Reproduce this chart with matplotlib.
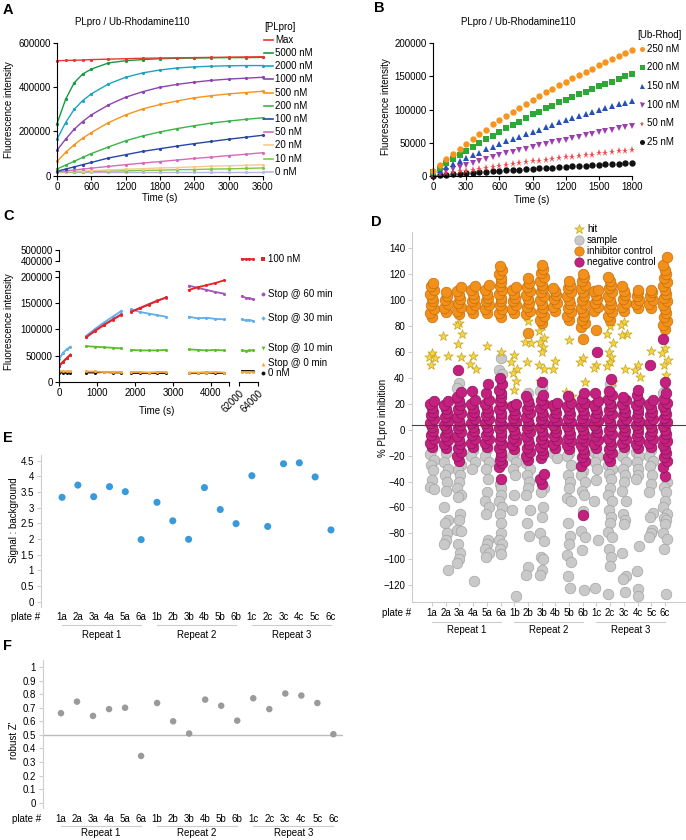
import numpy as np
import matplotlib.pyplot as plt
from matplotlib.transforms import blended_transform_factory

plt.rcParams['font.family'] = ['Liberation Sans', 'DejaVu Sans']
plt.rcParams['font.size'] = 7

#%%
# Data

# Panel A: PLpro titration, fluorescence (x1000)
a_time = [0, 150, 300, 450, 600, 900, 1200, 1500, 1800, 2100, 2400, 2700, 3000, 3300, 3600]
a_labels = ["Max", "5000 nM", "2000 nM", "1000 nM", "500 nM", "200 nM",
            "100 nM", "50 nM", "20 nM", "10 nM", "0 nM"]
a_colors = ["#e8392f", "#139a43", "#1ba3c6", "#8e44ad", "#f7941d", "#3bb44a",
            "#2846a8", "#d66bbd", "#f9c891", "#7dc843", "#b9b6e6"]
a_max = [520, 521, 522, 523, 525, 527, 529, 531, 532, 533, 534, 535, 536, 537, 538]
a_5000 = [235, 345, 420, 460, 482, 510, 520, 525, 529, 531, 532, 533, 534, 534, 535]
a_2000 = [165, 240, 300, 340, 370, 415, 445, 465, 478, 487, 492, 495, 497, 498, 498]
a_1000 = [115, 165, 210, 245, 275, 320, 355, 380, 400, 413, 423, 431, 437, 441, 445]
a_500 = [65, 105, 140, 170, 195, 240, 275, 302, 322, 338, 352, 362, 370, 376, 382]
a_200 = [30, 48, 65, 83, 100, 130, 158, 180, 198, 213, 226, 238, 247, 255, 262]
a_100 = [20, 30, 40, 50, 60, 80, 95, 110, 122, 134, 145, 155, 165, 174, 183]
a_50 = [18, 22, 26, 30, 34, 42, 50, 57, 64, 71, 78, 84, 91, 97, 104]
a_20 = [17, 18.5, 20, 21.5, 23, 26, 29, 32, 35, 37, 40, 43, 45, 47, 50]
a_10 = [16, 17, 18, 18.5, 19, 21, 22, 24, 25, 27, 28, 30, 31, 33, 35]
a_0 = [15, 15, 15, 15, 15, 15, 15, 15, 15, 15, 15, 15, 15, 15, 15]
a_series = [a_max, a_5000, a_2000, a_1000, a_500, a_200, a_100, a_50, a_20, a_10, a_0]

# Panel B: substrate titration, fluorescence (x1000) every 60 s
b_time = list(range(0, 1801, 60))
b_labels = ["250 nM", "200 nM", "150 nM", "100 nM", "50 nM", "25 nM"]
b_colors = ["#f7941d", "#2ea836", "#2451b5", "#9b3fae", "#f04a4a", "#111111"]
b_markers = ["o", "s", "^", "v", "*", "o"]
b_250 = [8, 17, 25, 33, 41, 48, 56, 63, 70, 78, 85, 91, 97, 103, 109, 115, 120, 126,
         131, 137, 142, 147, 152, 157, 162, 167, 172, 176, 181, 186, 190]
b_200 = [6, 12, 19, 25, 32, 38, 44, 50, 56, 61, 67, 72, 77, 82, 88, 93, 97, 102,
         106, 111, 115, 119, 123, 127, 131, 135, 139, 142, 146, 150, 153]
b_150 = [4, 9, 13, 18, 22, 27, 31, 35, 40, 44, 48, 52, 56, 59, 63, 67, 70, 74,
         77, 81, 84, 87, 90, 93, 96, 99, 102, 105, 108, 110, 113]
b_100 = [2, 5, 8, 11, 14, 17, 20, 23, 26, 28, 31, 34, 36, 39, 41, 44, 46, 48,
         51, 53, 55, 57, 59, 62, 64, 66, 68, 70, 72, 74, 76]
b_50 = [1, 2.5, 4, 5.5, 7, 8, 9.5, 11, 12.5, 14, 15, 16.5, 18, 19, 20.5, 22, 23, 24,
        25.5, 27, 28, 29, 30, 31, 32, 34, 35, 36, 37, 38, 39]
b_25 = [0.5, 1.2, 2, 2.7, 3.3, 4, 4.8, 5.5, 6.2, 7, 8, 8.5, 9, 9.5, 10, 11, 11.5, 12,
        12.7, 13.3, 14, 14.6, 15.2, 15.8, 16.4, 17, 17.5, 18, 18.7, 19.3, 20]
b_series = [b_250, b_200, b_150, b_100, b_50, b_25]

# Panel C: stop experiment, read windows (s) and fluorescence (x1000)
c_t1 = [0, 100, 200, 300]
c_t2 = [720, 950, 1180, 1410, 1640]
c_t3 = [1900, 2130, 2360, 2590, 2820]
c_t4 = [3420, 3650, 3880, 4110, 4340]
c_tr = [62300, 62700, 63100, 63500]
c_labels = ["0 nM", "Stop @ 0 min", "Stop @ 10 min", "Stop @ 30 min", "Stop @ 60 min", "100 nM"]
c_colors = ["#111111", "#f7a840", "#5cbf2a", "#62aee8", "#a356b8", "#e8231f"]
c_markers = ["o", "^", "v", "D", "o", "s"]
c_black = [[18, 18, 17, 18], [18, 18, 19, 18, 18], [18, 18, 18, 18, 18], [17, 17, 18, 17, 17], [20, 20, 20, 20]]
c_orange = [[21, 20, 20, 20], [20, 20, 19, 19, 19], [19, 19, 18, 19, 19], [18, 18, 18, 19, 18], [19, 19, 19, 19]]
c_green = [[30, 38, 45, 52], [68, 67, 66, 65, 64], [61, 60, 60, 60, 61], [62, 61, 60, 61, 60], [60, 59, 60, 60]]
c_blue = [[43, 55, 62, 67], [88, 101, 113, 124, 135], [138, 133, 130, 127, 124], [124, 121, 122, 120, 119], [119, 117, 118, 116]]
c_purple = [[30, 38, 45, 52], [86, 98, 109, 119, 129], [134, 141, 148, 155, 160], [183, 179, 175, 171, 168], [163, 160, 159, 157]]
c_red = [[30, 38, 45, 52], [85, 97, 108, 118, 128], [133, 140, 147, 154, 161], [175, 180, 184, 188, 193], [421, 419, 420, 418]]
c_series = [c_black, c_orange, c_green, c_blue, c_purple, c_red]

# Panels D-F: HTS plates
plates = ["1a", "2a", "3a", "4a", "5a", "6a", "1b", "2b", "3b", "4b", "5b", "6b",
          "1c", "2c", "3c", "4c", "5c", "6c"]
repeats = ["Repeat 1", "Repeat 2", "Repeat 3"]

d_inhibitor = [
    [87, 90, 93, 96, 99, 102, 105, 108, 111, 113],
    [91, 94, 97, 100, 103, 106],
    [89, 92, 95, 98, 101, 104, 107, 110],
    [90, 93, 96, 99, 102, 105, 108, 111],
    [90, 93, 96, 99, 102, 105, 108, 112],
    [87, 90, 93, 96, 99, 102, 105, 108, 111, 114, 117, 120, 123, 126],
    [90, 93, 96, 99, 102, 105, 108, 110],
    [75, 89, 92, 95, 98, 101, 104, 107, 110, 113, 117],
    [82, 85, 88, 91, 94, 97, 100, 103, 106, 109, 112, 115, 118, 121, 124, 127],
    [92, 95, 98, 101, 104, 107, 109],
    [85, 88, 91, 94, 97, 100, 103, 106, 109, 112, 115],
    [70, 79, 82, 85, 88, 91, 94, 97, 100, 103, 106, 109, 112, 115, 118, 120],
    [77, 92, 95, 98, 101, 104, 107, 108],
    [85, 88, 91, 94, 97, 100, 103, 106, 109, 112, 115, 118],
    [92, 95, 98, 101, 104, 107, 111],
    [94, 97, 100, 103, 106, 108],
    [94, 97, 100, 103, 106, 108],
    [78, 81, 84, 87, 90, 93, 96, 99, 102, 105, 108, 111, 114, 117, 120, 123, 127, 133]]
d_negative = [
    [-13, -10, -7, -4, -1, 2, 5, 8, 11, 14, 17, 20, 22],
    [-14, -11, -8, -5, -2, 1, 4, 7, 10, 13, 16, 19, 22],
    [-24, -20, -17, -14, -11, -8, -5, -2, 1, 4, 7, 10, 13, 16, 19, 22, 25, 29, 46],
    [-13, -10, -7, -4, -1, 2, 5, 8, 11, 14, 17, 20, 23, 30],
    [-13, -10, -7, -4, -1, 2, 5, 8, 11, 14, 17, 20, 23, 28, 35],
    [-38, -29, -26, -23, -20, -17, -14, -11, -8, -5, -2, 1, 4, 7, 10, 13, 16, 19, 22, 25, 28, 31, 35, 40],
    [-15, -12, -9, -6, -3, 0, 3, 6, 9, 12, 15, 18, 20],
    [-23, -20, -17, -14, -11, -8, -5, -2, 1, 4, 7, 10, 13, 16, 19, 22, 26],
    [-42, -38, -34, -22, -19, -16, -13, -10, -7, -4, -1, 2, 5, 8, 11, 14, 17, 20, 23, 27, 37],
    [-14, -11, -8, -5, -2, 1, 4, 7, 10, 13, 16, 19, 21],
    [-15, -12, -9, -6, -3, 0, 3, 6, 9, 12, 15, 18, 21, 26],
    [-66, -28, -24, -21, -18, -15, -12, -9, -6, -3, 0, 3, 6, 9, 12, 15, 18, 21, 24, 28],
    [-14, -11, -8, -5, -2, 1, 4, 7, 10, 13, 16, 19, 22, 28, 60],
    [-24, -21, -18, -15, -12, -9, -6, -3, 0, 3, 6, 9, 12, 15, 18, 21, 24, 27, 30, 39],
    [-13, -10, -7, -4, -1, 2, 5, 8, 11, 14, 17, 20, 23, 25],
    [-14, -11, -8, -5, -2, 1, 4, 7, 10, 13, 16, 19, 22, 27, 31],
    [-13, -10, -7, -4, -1, 2, 5, 8, 11, 14, 17, 20, 23, 50],
    [-36, -29, -24, -21, -18, -15, -12, -9, -6, -3, 0, 3, 6, 9, 12, 15, 18, 21, 24, 28, 37, 70]]
d_sample = [
    [-15, -19, -23, -27, -31, -39, -44, -46],
    [-18, -25, -30, -35, -40, -47, -60, -70, -72, -80, -85, -88, -108],
    [36, 32, -27, -31, -35, -40, -45, -50, -52, -65, -70, -77, -78, -88, -95, -100, -103],
    [-16, -20, -25, -30, -117],
    [-15, -20, -25, -30, -38, -48, -55, -60, -65, -85, -88, -92, -95, -98],
    [55, 46, 43, -42, -45, -50, -55, -60, -65, -72, -80, -85, -88, -92, -96],
    [-18, -20, -25, -30, -35, -50, -62, -128],
    [28, -26, -30, -35, -40, -45, -50, -62, -72, -82, -106, -112],
    [33, 30, -45, -48, -60, -67, -80, -86, -98, -100, -108, -112],
    [-15, -18, -22],
    [-18, -20, -27, -35, -40, -45, -53, -55, -72, -82, -88, -97, -102, -113, -122],
    [-32, -35, -40, -47, -50, -63, -78, -83, -93, -124],
    [20, -17, -20, -25, -30, -39, -55, -85, -122],
    [35, -27, -30, -34, -38, -45, -50, -55, -62, -67, -72, -79, -83, -92, -98, -105, -127],
    [-16, -20, -25, -30, -35, -40, -47, -55, -65, -70, -73, -95, -113, -115, -125],
    [20, -17, -20, -25, -30, -35, -38, -90, -109, -123, -128],
    [-16, -20, -24, -28, -35, -42, -48, -64, -67, -77, -80, -83],
    [30, 28, -40, -44, -48, -55, -60, -65, -68, -70, -73, -80, -84, -92, -127]]
d_hit = [
    [59, 56, 55, 50], [91, 72, 57], [82, 81, 74, 66, 56], [57, 51, 47], [65], [60],
    [58, 52, 47, 44, 38, 31], [84, 68, 67, 52], [80, 76, 71, 68, 64, 60, 50, 47, 38],
    [53, 47], [69, 29, 26], [55, 52, 37], [50, 48], [80, 74, 67, 60, 56, 52, 49, 37],
    [83, 81, 74, 73, 47], [50, 46, 41], [61], [63, 59, 54, 50, 42]]
d_line = 4

e_signal = [3.33, 3.72, 3.35, 3.67, 3.51, 1.98, 3.17, 2.58, 1.99, 3.64, 2.94, 2.49,
            4.02, 2.40, 4.40, 4.43, 3.98, 2.29]
f_zprime = [0.66, 0.745, 0.64, 0.69, 0.70, 0.345, 0.735, 0.60, 0.51, 0.76, 0.715, 0.605,
            0.77, 0.69, 0.805, 0.79, 0.735, 0.505]

#%%
# Figure helpers
W, H = 686, 840
fig = plt.figure(figsize=(W / 100, H / 100), dpi=100)


def px_axes(l, t, r, b):
    return fig.add_axes([l / W, 1 - b / H, (r - l) / W, (b - t) / H])


def style_black(ax):
    for s in ["top", "right"]:
        ax.spines[s].set_visible(False)
    for s in ["left", "bottom"]:
        ax.spines[s].set_linewidth(0.8)
    ax.tick_params(length=3, width=0.8, pad=1.5, labelsize=7)


def style_gray(ax):
    for s in ["top", "right", "bottom"]:
        ax.spines[s].set_visible(False)
    ax.spines["left"].set_color("#cccccc")
    ax.tick_params(axis="y", length=3, width=0.8, color="#cccccc", pad=2, labelsize=7)
    ax.tick_params(axis="x", length=0, labelbottom=False)


def jitter(n, w=0.14):
    pat = np.array([0, -1, 1, -0.5, 0.5])
    return pat[np.arange(n) % 5] * w


ov = fig.add_axes([0, 0, 1, 1])
ov.set_xlim(0, W)
ov.set_ylim(H, 0)
ov.axis("off")
ov.set_zorder(10)

# Panel letters
for letter, x, y in [("A", 3, 10), ("B", 374, 8), ("C", 3, 216), ("D", 371, 222),
                     ("E", 3, 438), ("F", 3, 646)]:
    ov.text(x, y, letter, fontsize=10.5, fontweight="bold", va="center")

#%%
# Panel A
ax = px_axes(57, 43, 263, 175.7)
for vals, col in zip(a_series[::-1], a_colors[::-1]):
    ax.plot(a_time, np.array(vals) * 1000, color=col, lw=1.0, marker="o", ms=1.3, clip_on=False)
ax.set_xlim(0, 3600)
ax.set_ylim(0, 600000)
ax.set_xticks(range(0, 3601, 600))
ax.set_yticks([0, 200000, 400000, 600000])
ax.set_yticklabels(["0", "200000", "400000", "600000"])
style_black(ax)
ov.text(132, 22, "PLpro / Ub-Rhodamine110", ha="center", va="center")
ov.text(160, 198, "Time (s)", ha="center", va="center")
ov.text(9, 110, "Fluorescence intensity", rotation=90, ha="center", va="center")
ov.text(264, 26.5, "[PLpro]", va="center")
for i, (lab, col) in enumerate(zip(a_labels, a_colors)):
    y = 39.7 + i * 13.2
    ov.plot([264, 273], [y, y], color=col, lw=1.2)
    ov.text(275, y, lab, va="center")

#%%
# Panel B
ax = px_axes(433, 43.3, 632, 176)
for vals, col, mk in zip(b_series[::-1], b_colors[::-1], b_markers[::-1]):
    ax.plot(b_time, np.array(vals) * 1000, color=col, lw=0, marker=mk,
            ms=4.6 if mk != "*" else 5.2, mew=0, clip_on=False)
ax.set_xlim(0, 1800)
ax.set_ylim(0, 200000)
ax.set_xticks(range(0, 1801, 300))
ax.set_yticks(range(0, 200001, 50000))
ax.set_yticklabels(["0", "50000", "100000", "150000", "200000"])
style_black(ax)
ov.text(518, 22, "PLpro / Ub-Rhodamine110", ha="center", va="center")
ov.text(532, 200, "Time (s)", ha="center", va="center")
ov.text(386, 107, "Fluorescence intensity", rotation=90, ha="center", va="center")
ov.text(637, 35, "[Ub-Rhod]", va="center")
for i, (lab, col, mk) in enumerate(zip(b_labels, b_colors, b_markers)):
    y = 48.7 + i * 18.7
    ov.plot(642, y, marker=mk, color=col, ms=3.6, mew=0)
    ov.text(647, y, lab, va="center")

#%%
# Panel C: broken axes
c_top = 210900
ax_ll = px_axes(59, 271, 229, 382)
ax_ul = px_axes(59, 250, 229, 261.3)
ax_lr = px_axes(239, 271, 258, 382)
ax_ur = px_axes(239, 250, 258, 261.3)
c_segs = [c_t1, c_t2, c_t3, c_t4]
for series, col in zip(c_series, c_colors):
    for t, v in zip(c_segs, series[:4]):
        ax_ll.plot(t, np.array(v) * 1000, color=col, lw=1.3, marker="o", ms=1.2)
    if max(series[4]) > 300:
        ax_ur.plot(c_tr, np.array(series[4]) * 1000, color=col, lw=1.3, marker="o", ms=1.2)
    else:
        ax_lr.plot(c_tr, np.array(series[4]) * 1000, color=col, lw=1.3, marker="o", ms=1.2)

for a in [ax_ll, ax_lr]:
    a.set_ylim(0, c_top)
for a in [ax_ul, ax_ur]:
    a.set_ylim(400000, 500000)
for a in [ax_ll, ax_ul]:
    a.set_xlim(0, 4474)
for a in [ax_lr, ax_ur]:
    a.set_xlim(62000, 64000)

style_black(ax_ll)
ax_ll.set_xticks([0, 1000, 2000, 3000, 4000, 4474])
ax_ll.set_xticklabels(["0", "1000", "2000", "3000", "4000", ""])
ax_ll.set_yticks([0, 50000, 100000, 150000, 200000, c_top])
ax_ll.set_yticklabels(["0", "50000", "100000", "150000", "200000", ""])

style_black(ax_ul)
ax_ul.spines["bottom"].set_visible(False)
ax_ul.set_xticks([])
ax_ul.set_yticks([400000, 500000])
ax_ul.set_yticklabels(["400000", "500000"])

style_black(ax_lr)
ax_lr.spines["left"].set_visible(False)
ax_lr.set_yticks([])
ax_lr.set_xticks([62000, 64000])
ax_lr.set_xticklabels(["62000", "64000"], rotation=45, ha="right", va="top",
                      rotation_mode="anchor")

ax_ur.axis("off")

ov.text(157, 411, "Time (s)", ha="center", va="center")
ov.text(9, 322, "Fluorescence intensity", rotation=90, ha="center", va="center")
c_leg_y = [373, 363.5, 348, 318, 294, 259]
for lab, col, mk, y in zip(c_labels, c_colors, c_markers, c_leg_y):
    ov.plot(263, y, marker=mk, color=col, ms=2.8 if mk != "D" else 2.2, mew=0)
    ov.text(268, y, lab, va="center")

#%%
# Panel D
ax = px_axes(412, 232, 686, 601.7)
x = np.arange(len(plates))
for i in x:
    g = np.array(d_sample[i])
    ax.scatter(i + jitter(len(g)), g, s=58, c="#c9c9c9", edgecolors="#a3a3a3", lw=0.5, zorder=2)
    h = np.array(d_hit[i])
    ax.scatter(i + jitter(len(h), 0.2), h, s=50, marker="*", c="#f5d547",
               edgecolors="#c7a520", lw=0.5, zorder=3)
    o = np.array(d_inhibitor[i])
    ax.scatter(i + jitter(len(o)), o, s=58, c="#f39019", edgecolors="#c46f0f", lw=0.5, zorder=4)
    m = np.array(d_negative[i])
    ax.scatter(i + jitter(len(m)), m, s=58, c="#c4207f", edgecolors="#8f145b", lw=0.5, zorder=5)
ax.axhline(d_line, color="#444444", lw=0.8, zorder=6)
ax.set_xlim(-1.46, 18.54)
ax.set_ylim(-132.7, 152.6)
ax.set_yticks(range(-120, 141, 20))
ax.set_xticks(x)
for s in ["top", "right"]:
    ax.spines[s].set_visible(False)
for s in ["left", "bottom"]:
    ax.spines[s].set_color("#cccccc")
ax.tick_params(axis="y", length=3, width=0.8, color="#cccccc", pad=2, labelsize=7)
ax.tick_params(axis="x", length=3, width=0.8, color="#cccccc", labelbottom=False)
ov.text(383, 418, "% PLpro inhibition", rotation=90, ha="center", va="center")


def plate_axis(ax, y_lab, y_line, y_rep, x_name, y_name):
    tr = blended_transform_factory(ax.transData, ov.transData)
    for i, p in enumerate(plates):
        ov.text(i, y_lab, p, transform=tr, ha="center", va="center")
    for k, rep in enumerate(repeats):
        ov.plot([6 * k, 6 * k + 5], [y_line, y_line], transform=tr, color="#cccccc", lw=0.8)
        ov.text(6 * k + 2.5, y_rep, rep, transform=tr, ha="center", va="center")
    ov.text(x_name, y_name, "plate #", ha="center", va="center")


plate_axis(ax, 612.7, 621.5, 630, 397, 612.7)
d_leg = [("hit", "*", "#f5d547", "#c7a520"), ("sample", "o", "#c9c9c9", "#a3a3a3"),
         ("inhibitor control", "o", "#f39019", "#c46f0f"),
         ("negative control", "o", "#c4207f", "#8f145b")]
for k, (lab, mk, fc, ec) in enumerate(d_leg):
    y = 229 + k * 11
    ov.scatter(579, y, s=50 if mk == "*" else 45, marker=mk, c=fc, edgecolors=ec, lw=0.5)
    ov.text(587, y, lab, va="center")

#%%
# Panel E
ax = px_axes(40.7, 455, 343, 606.7)
ax.scatter(x, e_signal, s=26, c="#3a9ad9", edgecolors="none")
ax.set_xlim(-1.35, 17.76)
ax.set_ylim(-0.16, 4.68)
ax.set_yticks(np.arange(0, 4.6, 0.5))
ax.set_yticklabels(["0", "0.5", "1", "1.5", "2", "2.5", "3", "3.5", "4", "4.5"])
style_gray(ax)
ov.text(14, 520, "Signal : background", rotation=90, ha="center", va="center")
plate_axis(ax, 616.5, 624.5, 634.5, 26, 616.5)

#%%
# Panel F
ax = px_axes(42.7, 660, 343, 808)
ax.axhline(0.5, color="#bbbbbb", lw=1.0, zorder=1)
ax.scatter(x, f_zprime, s=22, c="#9a9a9a", edgecolors="none", zorder=2)
ax.set_xlim(-1.14, 17.6)
ax.set_ylim(-0.039, 1.052)
ax.set_yticks(np.arange(0, 1.01, 0.1))
ax.set_yticklabels(["0", "0.1", "0.2", "0.3", "0.4", "0.5", "0.6", "0.7", "0.8", "0.9", "1"])
style_gray(ax)
ov.text(14, 740, "robust Z'", rotation=90, ha="center", va="center")
plate_axis(ax, 819, 825.5, 833.5, 27, 819)

fig.savefig("out.png", dpi=100)
